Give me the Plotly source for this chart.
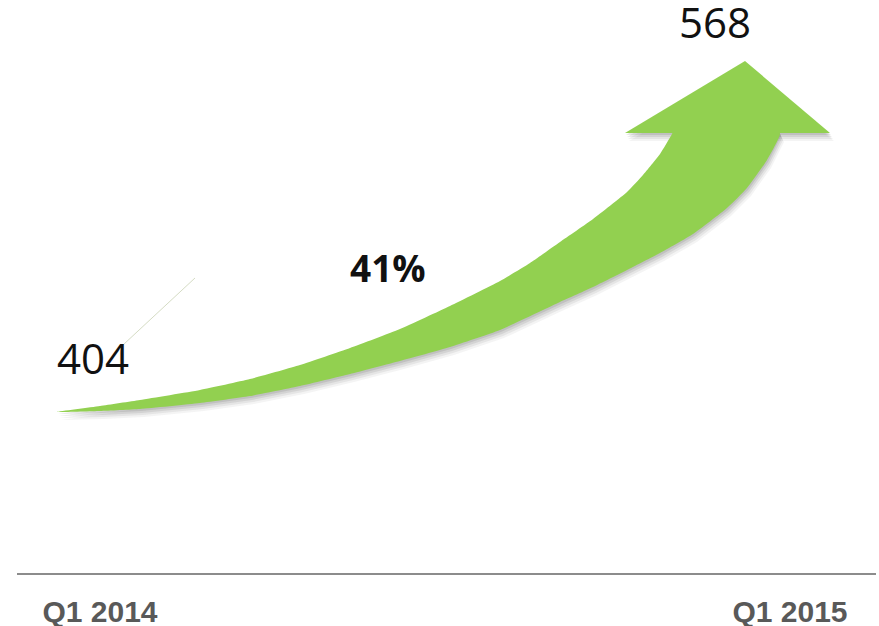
import plotly.graph_objects as go

# ---- data ----
periods = ["Q1 2014", "Q1 2015"]
values = [404, 568]
growth_label = f"{round((values[1] / values[0] - 1) * 100)}%"

# ---- axis mapping ----
W, H = 879, 626
ML, MR, MT, MB = 17, 3, 0, 53
PX_PER_X = 688.0                       # pixels per unit of x (tail -> tip)
PX_PER_Y = 351.0 / (values[1] - values[0])
X0 = -(57 - ML) / PX_PER_X
X1 = X0 + (W - ML - MR) / PX_PER_X
Y1 = values[1] + 61 / PX_PER_Y
Y0 = values[0] - (H - MB - 412) / PX_PER_Y

# arrow profile as fractions of the span (u along x, v along value)
upper_u = [0, 0.0625, 0.1206, 0.2078, 0.2805, 0.3532, 0.4259, 0.4985, 0.5712, 0.6439,
           0.6875, 0.7311, 0.7791, 0.8285, 0.8517, 0.8765, 0.8939]
upper_v = [0, 0.0171, 0.0342, 0.0627, 0.0940, 0.1339, 0.1823, 0.2365, 0.3020, 0.3732,
           0.4245, 0.4843, 0.5499, 0.6268, 0.6752, 0.7350, 0.7920]
top_u = [0.8997, 1.0451]
top_v = [0.8148, 0.8148]
lower_u = [1.0509, 1.0320, 1.0029, 0.9738, 0.9244, 0.8765, 0.8285, 0.7791, 0.7311, 0.6439,
           0.5712, 0.4985, 0.4259, 0.3532, 0.2805, 0.2078, 0.1206, 0.0625, 0]
lower_v = [0.7920, 0.7179, 0.6382, 0.5812, 0.5071, 0.4530, 0.4046, 0.3561, 0.3134, 0.2336,
           0.1852, 0.1453, 0.1083, 0.0741, 0.0456, 0.0256, 0.0085, 0.0028, 0]
shaft_u = upper_u + top_u + lower_u
shaft_v = upper_v + top_v + lower_v
head_u = [0.8256, 1.0, 1.1235, 0.8256]
head_v = [0.7949, 1.0, 0.7949, 0.7949]

span = values[1] - values[0]


def to_xy(us, vs, dpx=0.0, dpy=0.0):
    xs = [u + dpx / PX_PER_X for u in us]
    ys = [values[0] + v * span - dpy / PX_PER_Y for v in vs]
    return xs, ys


GREEN = "#92d050"
fig = go.Figure()

# soft shadow
for (dx, dy, op) in [(4, 8, 0.06), (3, 6, 0.08), (2, 4, 0.10), (1, 2, 0.12)]:
    for us, vs in [(shaft_u, shaft_v), (head_u, head_v)]:
        xs, ys = to_xy(us, vs, dx, dy)
        fig.add_trace(go.Scatter(x=xs, y=ys, mode="lines", fill="toself",
                                 line=dict(width=0),
                                 fillcolor=f"rgba(60,60,60,{op})", hoverinfo="skip",
                                 showlegend=False))

# arrow body
xs, ys = to_xy(shaft_u, shaft_v)
fig.add_trace(go.Scatter(x=xs, y=ys, mode="lines", fill="toself",
                         line=dict(width=0, color=GREEN, shape="spline", smoothing=0.5),
                         fillcolor=GREEN, hoverinfo="skip", showlegend=False))
xs, ys = to_xy(head_u, head_v)
fig.add_trace(go.Scatter(x=xs, y=ys, mode="lines", fill="toself",
                         line=dict(width=0, color=GREEN),
                         fillcolor=GREEN, hoverinfo="skip", showlegend=False))

# faint leader line
lx, ly = to_xy([0.0959, 0.2006], [0.1909, 0.3818])
fig.add_trace(go.Scatter(x=lx, y=ly, mode="lines",
                         line=dict(width=1, color="#d5dcc4"),
                         hoverinfo="skip", showlegend=False))

num_font = dict(family="Open Sans, Lato, sans-serif", size=42, color="#111111")
fig.add_annotation(x=0, y=values[0], text=str(values[0]), showarrow=False,
                   xshift=36, yshift=55, font=num_font)
fig.add_annotation(x=1, y=values[1], text=str(values[1]), showarrow=False,
                   xshift=-30, yshift=40, font=num_font)
fig.add_annotation(x=0.481, y=values[0] + 0.4046 * span, text=f"<b>{growth_label}</b>",
                   showarrow=False, yshift=2,
                   font=dict(family="Open Sans, sans-serif", size=37, color="#111111"))

tick_pos = [0.0625, 1.0654]

fig.update_layout(
    width=W, height=H,
    margin=dict(l=ML, r=MR, t=MT, b=MB),
    paper_bgcolor="white", plot_bgcolor="white",
    showlegend=False,
    xaxis=dict(range=[X0, X1], showgrid=False, zeroline=False, showline=True,
               linecolor="#8c8c8c", linewidth=2, ticks="",
               tickvals=tick_pos, ticktext=[f"<b>{p}</b>" for p in periods],
               tickfont=dict(family="Liberation Sans, Arial, sans-serif", size=30,
                             color="#595959"),
               ticklabelstandoff=11, automargin=False, fixedrange=True),
    yaxis=dict(range=[Y0, Y1], visible=False, fixedrange=True),
)

fig.write_html("out.html", config={"displayModeBar": False},
               post_script="document.body.style.margin='0px';document.body.style.overflow='hidden';")
